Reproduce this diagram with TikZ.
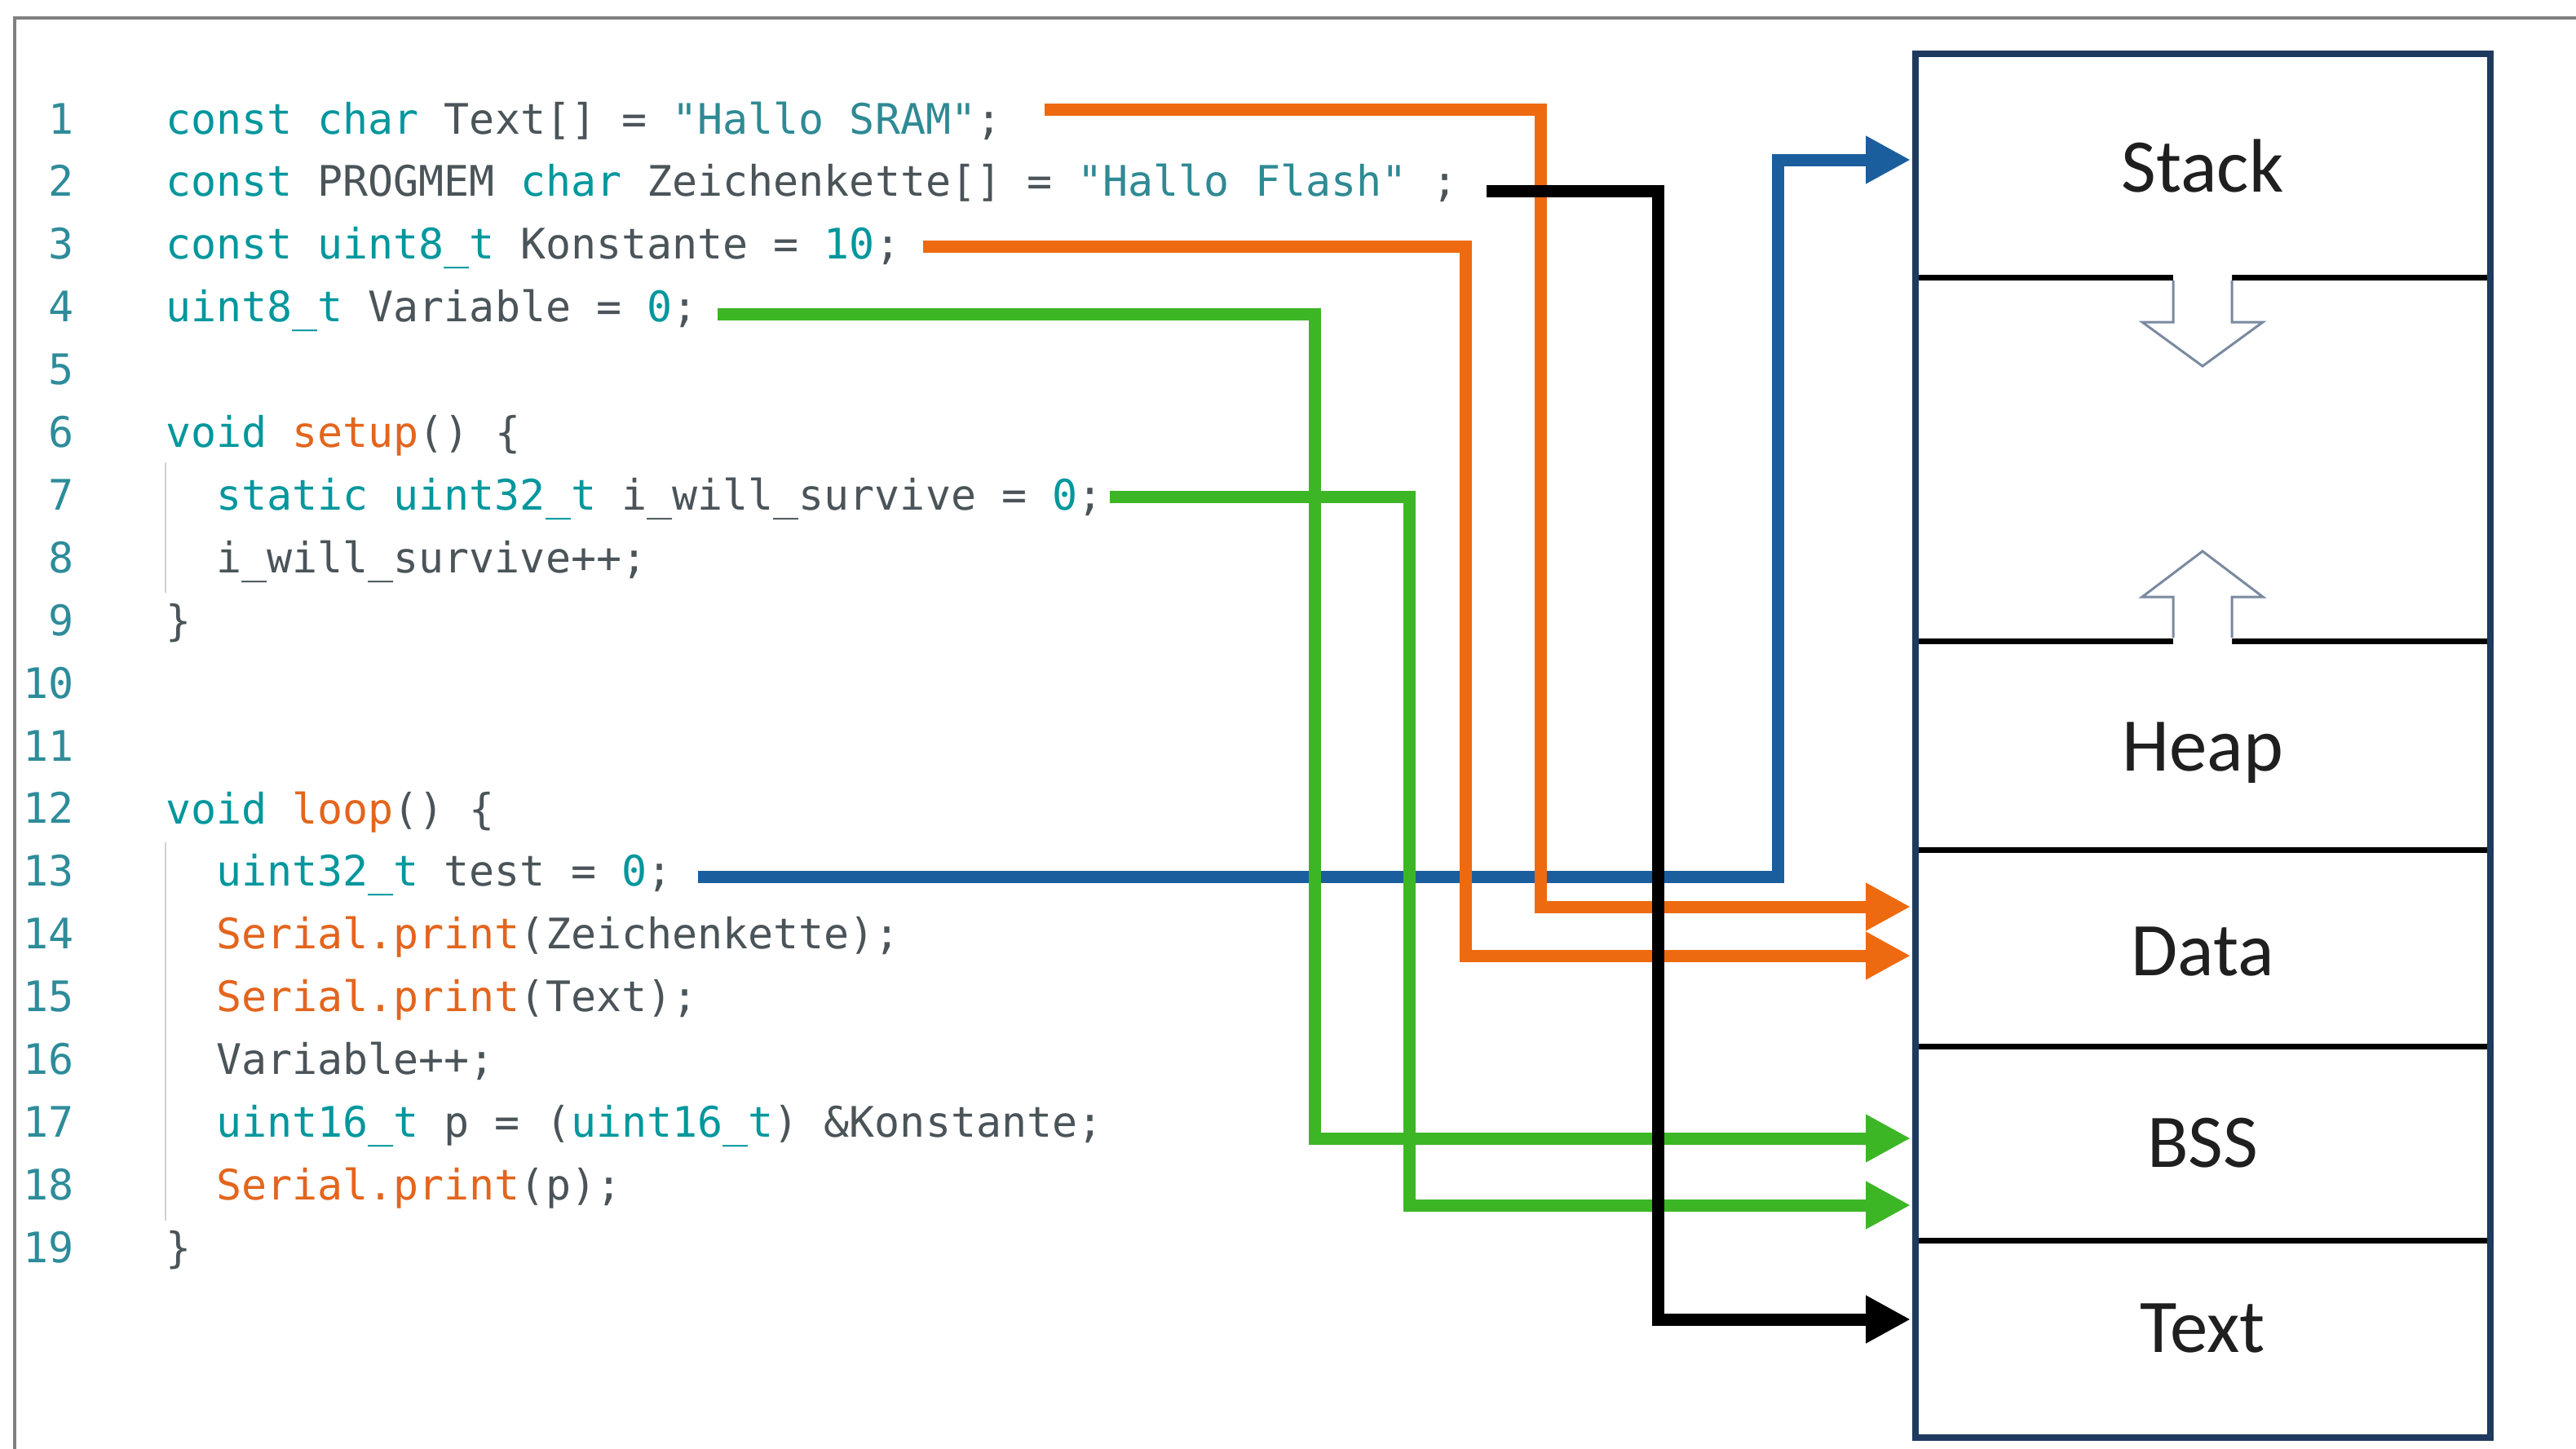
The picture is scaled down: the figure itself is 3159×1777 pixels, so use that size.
\documentclass[tikz,border=0pt]{standalone}
\usepackage{fontspec}
\usetikzlibrary{arrows.meta}
\newfontfamily\codefont{DejaVu Sans Mono}
\newfontfamily\labfont{Carlito}
\definecolor{kwc}{HTML}{00979D}
\definecolor{stc}{HTML}{2E8A94}
\definecolor{fnc}{HTML}{E3651D}
\definecolor{idc}{HTML}{4A5459}
\definecolor{numc}{HTML}{2E8C9A}
\definecolor{orc}{HTML}{EE6A10}
\definecolor{grc}{HTML}{3DB626}
\definecolor{blc}{HTML}{1B5E9E}
\definecolor{navyc}{HTML}{1F3A5F}
\definecolor{hollowc}{HTML}{7A8AA0}
\definecolor{framec}{HTML}{808080}
\newcommand\ckw[1]{\textcolor{kwc}{#1}}
\newcommand\cst[1]{\textcolor{stc}{#1}}
\newcommand\cfn[1]{\textcolor{fnc}{#1}}
\newcommand\cid[1]{\textcolor{idc}{#1}}
\begin{document}
\begin{tikzpicture}[x=1pt,y=-1pt,
  codeline/.style={anchor=base west, inner sep=0pt, font=\codefont\fontsize{51.6}{60}\selectfont, text=idc},
  lnum/.style={anchor=base east, inner sep=0pt, font=\codefont\fontsize{51.6}{60}\selectfont, text=numc},
  memlab/.style={anchor=base, inner sep=0pt, font=\labfont\fontsize{93}{110}\selectfont, text=black!88},
  conn/.style={line width=15pt, -{Triangle[length=55pt,width=55pt]}},
  oconn/.style={conn, draw=orc},
  gconn/.style={conn, draw=grc},
  bconn/.style={conn, draw=blc},
  kconn/.style={conn, draw=black},
  guide/.style={draw=black!18, line width=2pt},
  divider/.style={draw=black, line width=7pt},
  hollow/.style={draw=hollowc, line width=3pt, line join=miter}
]
\useasboundingbox (0,0) rectangle (3159,1777);
\fill[white] (0,0) rectangle (3159,1777);
% outer frame
\draw[framec, line width=4pt] (18,1777) -- (18,22) -- (3159,22);

% line numbers
\foreach \i in {1,...,19}{
  \node[lnum] (n\i) at (91,{164+(\i-1)*76.9}) {\i};
}

% indent guides
\draw[guide] (203,567) -- (203,727);
\draw[guide] (203,1033) -- (203,1497);

% code
\node[codeline] (l1) at (203,164) {\ckw{const char} \cid{Text[] =} \cst{"Hallo SRAM"}\cid{;}};
\node[codeline] (l2) at (203,240.9) {\ckw{const} \cid{PROGMEM} \ckw{char} \cid{Zeichenkette[] =} \cst{"Hallo Flash"} \cid{;}};
\node[codeline] (l3) at (203,317.8) {\ckw{const uint8\_t} \cid{Konstante =} \ckw{10}\cid{;}};
\node[codeline] (l4) at (203,394.7) {\ckw{uint8\_t} \cid{Variable =} \ckw{0}\cid{;}};
\node[codeline] (l6) at (203,548.5) {\ckw{void} \cfn{setup}\cid{() \{}};
\node[codeline] (l7) at (265,625.4) {\ckw{static uint32\_t} \cid{i\_will\_survive =} \ckw{0}\cid{;}};
\node[codeline] (l8) at (265,702.3) {\cid{i\_will\_survive++;}};
\node[codeline] (l9) at (203,779.2) {\cid{\}}};
\node[codeline] (l12) at (203,1010) {\ckw{void} \cfn{loop}\cid{() \{}};
\node[codeline] (l13) at (265,1086.9) {\ckw{uint32\_t} \cid{test =} \ckw{0}\cid{;}};
\node[codeline] (l14) at (265,1163.8) {\cfn{Serial.print}\cid{(Zeichenkette);}};
\node[codeline] (l15) at (265,1240.7) {\cfn{Serial.print}\cid{(Text);}};
\node[codeline] (l16) at (265,1317.6) {\cid{Variable++;}};
\node[codeline] (l17) at (265,1394.5) {\ckw{uint16\_t} \cid{p = (}\ckw{uint16\_t}\cid{) \&Konstante;}};
\node[codeline] (l18) at (265,1471.4) {\cfn{Serial.print}\cid{(p);}};
\node[codeline] (l19) at (203,1548.3) {\cid{\}}};

% memory box
\draw[divider] (2349,340) -- (3054,340);
\draw[divider] (2349,786) -- (3054,786);
\draw[divider] (2349,1042) -- (3054,1042);
\draw[divider] (2349,1283) -- (3054,1283);
\draw[divider] (2349,1521) -- (3054,1521);
\draw[navyc, line width=8pt] (2349,66) rectangle (3054,1763);

% hollow arrows
\fill[white] (2665,336) -- (2665,395) -- (2627,395) -- (2701,449) -- (2775,395) -- (2737,395) -- (2737,336) -- cycle;
\draw[hollow] (2665,344) -- (2665,395) -- (2627,395) -- (2701,449) -- (2775,395) -- (2737,395) -- (2737,344);
\fill[white] (2665,790) -- (2665,732) -- (2627,732) -- (2701,676) -- (2775,732) -- (2737,732) -- (2737,790) -- cycle;
\draw[hollow] (2665,782) -- (2665,732) -- (2627,732) -- (2701,676) -- (2775,732) -- (2737,732) -- (2737,782);

% labels
\node[memlab] (stack) at (2701,235) {Stack};
\node[memlab] (heap) at (2701,945) {Heap};
\node[memlab] (data) at (2701,1196) {Data};
\node[memlab] (bss) at (2701,1431) {BSS};
\node[memlab] (text) at (2701,1658) {Text};

% connector coordinates
\coordinate (s1) at (1281,134);
\coordinate (k1) at (1889,134);
\coordinate (e1) at (2343,1112);
\coordinate (s2) at (1823,234);
\coordinate (k2) at (2033,234);
\coordinate (e2) at (2343,1618);
\coordinate (s3) at (1132,302);
\coordinate (k3) at (1797,302);
\coordinate (e3) at (2343,1172);
\coordinate (s4) at (880,385);
\coordinate (k4) at (1612,385);
\coordinate (e4) at (2343,1396);
\coordinate (s7) at (1361,609);
\coordinate (k7) at (1728,609);
\coordinate (e7) at (2343,1478);
\coordinate (s13) at (856,1075);
\coordinate (k13) at (2180,1075);
\coordinate (e13) at (2343,196);

% connectors
\draw[bconn] (s13) -- (k13) |- (e13);
\draw[oconn] (s1) -- (k1) |- (e1);
\draw[oconn] (s3) -- (k3) |- (e3);
\draw[gconn] (s4) -- (k4) |- (e4);
\draw[gconn] (s7) -- (k7) |- (e7);
\draw[kconn] (s2) -- (k2) |- (e2);
\end{tikzpicture}
\end{document}
